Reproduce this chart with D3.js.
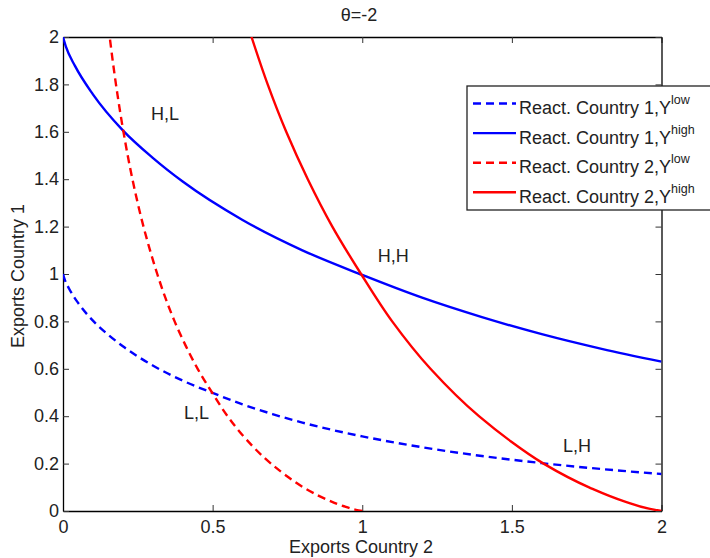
<!DOCTYPE html>
<html>
<head>
<meta charset="utf-8">
<script src="https://cdn.jsdelivr.net/npm/d3@7"></script>
<style>
  body { margin: 0; background: #fff; }
  svg text { font-family: "Liberation Sans", Arial, sans-serif; fill: #222; }
</style>
</head>
<body>
<div id="chart"></div>
<script>
// ticks
const xTicks = [0, 0.5, 1, 1.5, 2];
const yTicks = [0, 0.2, 0.4, 0.6, 0.8, 1, 1.2, 1.4, 1.6, 1.8, 2];

// reaction country 1 (exports 1 as function of exports 2)
const c1LowX = [0, 0.005, 0.02, 0.05, 0.1, 0.15, 0.2, 0.3, 0.4, 0.5, 0.6, 0.7, 0.8, 0.9, 1.0, 1.2, 1.4, 1.6, 1.8, 2.0];
const c1LowY = [1, 0.979, 0.939, 0.879, 0.803, 0.745, 0.695, 0.614, 0.55, 0.498, 0.45, 0.409, 0.373, 0.342, 0.315, 0.269, 0.232, 0.202, 0.177, 0.156];
const c1HighX = [0, 0.01, 0.04, 0.1, 0.2, 0.3, 0.4, 0.6, 0.8, 1.0, 1.2, 1.4, 1.6, 1.8, 2.0];
const c1HighY = [2, 1.958, 1.878, 1.758, 1.606, 1.49, 1.39, 1.228, 1.1, 0.996, 0.9, 0.818, 0.746, 0.684, 0.63];

// reaction country 2 (exports 2 as function of exports 1)
const c2LowX = [1, 0.979, 0.939, 0.879, 0.803, 0.745, 0.695, 0.614, 0.55, 0.498, 0.45, 0.409, 0.373, 0.342, 0.315, 0.269, 0.232, 0.202, 0.177, 0.156];
const c2LowY = [0, 0.005, 0.02, 0.05, 0.1, 0.15, 0.2, 0.3, 0.4, 0.5, 0.6, 0.7, 0.8, 0.9, 1.0, 1.2, 1.4, 1.6, 1.8, 2.0];
const c2HighX = [2, 1.958, 1.878, 1.758, 1.606, 1.49, 1.39, 1.228, 1.1, 0.996, 0.9, 0.818, 0.746, 0.684, 0.63];
const c2HighY = [0, 0.01, 0.04, 0.1, 0.2, 0.3, 0.4, 0.6, 0.8, 1.0, 1.2, 1.4, 1.6, 1.8, 2.0];

const legendLabels = ["React. Country 1,Y", "React. Country 1,Y", "React. Country 2,Y", "React. Country 2,Y"];
const legendSup = ["low", "high", "low", "high"];

const eqLabels = ["H,L", "H,H", "L,L", "L,H"];
const eqX = [0.294, 1.052, 0.404, 1.671];
const eqY = [1.65, 1.052, 0.388, 0.25];

const width = 710, height = 558;
const margin = { top: 37, right: 48, bottom: 47, left: 63 };

const svg = d3.select("#chart").append("svg")
    .attr("width", width)
    .attr("height", height);

const x = d3.scaleLinear().domain([0, 2]).range([margin.left, width - margin.right - 0.5]);
const y = d3.scaleLinear().domain([0, 2]).range([height - margin.bottom, margin.top]);

svg.append("clipPath").attr("id", "plot-clip")
    .append("rect")
    .attr("x", x(0)).attr("y", y(2))
    .attr("width", x(2) - x(0)).attr("height", y(0) - y(2));

const fmt = d => String(d);
const fontSize = 18;

// axes, MATLAB style ticks pointing inward
const xAxis = svg.append("g")
    .attr("transform", "translate(0," + y(0) + ")")
    .call(d3.axisBottom(x).tickValues(xTicks).tickFormat(fmt).tickSizeInner(-6).tickSizeOuter(0).tickPadding(9));
const xAxisTop = svg.append("g")
    .attr("transform", "translate(0," + y(2) + ")")
    .call(d3.axisTop(x).tickValues(xTicks).tickFormat("").tickSizeInner(-6).tickSizeOuter(0));
const yAxis = svg.append("g")
    .attr("transform", "translate(" + x(0) + ",0)")
    .call(d3.axisLeft(y).tickValues(yTicks).tickFormat(fmt).tickSizeInner(-6).tickSizeOuter(0).tickPadding(4));
const yAxisRight = svg.append("g")
    .attr("transform", "translate(" + x(2) + ",0)")
    .call(d3.axisRight(y).tickValues(yTicks).tickFormat("").tickSizeInner(-6).tickSizeOuter(0));

[xAxis, xAxisTop, yAxis, yAxisRight].forEach(g => {
    g.select(".domain").attr("stroke", "#000").attr("stroke-width", 1.3);
    g.selectAll(".tick line").attr("stroke", "#333");
    g.selectAll("text")
        .attr("font-size", fontSize)
        .attr("font-family", "Liberation Sans, Arial, sans-serif")
        .attr("fill", "#222");
});

// curves
const series = [
    { xs: c1LowX, ys: c1LowY, color: "#0000ff", dash: "8,5", curve: d3.curveMonotoneX },
    { xs: c1HighX, ys: c1HighY, color: "#0000ff", dash: null, curve: d3.curveMonotoneX },
    { xs: c2LowX, ys: c2LowY, color: "#ff0000", dash: "8,5", curve: d3.curveMonotoneY },
    { xs: c2HighX, ys: c2HighY, color: "#ff0000", dash: null, curve: d3.curveMonotoneY }
];

const plot = svg.append("g").attr("clip-path", "url(#plot-clip)");

series.forEach(s => {
    const pts = s.xs.map((v, i) => [v, s.ys[i]]);
    plot.append("path")
        .datum(pts)
        .attr("fill", "none")
        .attr("stroke", s.color)
        .attr("stroke-width", 2.4)
        .attr("stroke-dasharray", s.dash)
        .attr("d", d3.line().x(d => x(d[0])).y(d => y(d[1])).curve(s.curve));
});

// equilibrium labels
eqLabels.forEach((t, i) => {
    svg.append("text")
        .attr("x", x(eqX[i]))
        .attr("y", y(eqY[i]))
        .attr("font-size", fontSize)
        .text(t);
});

// title and axis labels
svg.append("text")
    .attr("x", 359)
    .attr("y", 21)
    .attr("text-anchor", "middle")
    .attr("font-size", fontSize)
    .text("θ=-2");

svg.append("text")
    .attr("x", 361)
    .attr("y", 553)
    .attr("text-anchor", "middle")
    .attr("font-size", fontSize)
    .text("Exports Country 2");

svg.append("text")
    .attr("transform", "translate(24," + (y(1) + 2) + ") rotate(-90)")
    .attr("text-anchor", "middle")
    .attr("font-size", fontSize)
    .text("Exports Country 1");

// legend
const legend = svg.append("g").attr("transform", "translate(467,86)");
legend.append("rect")
    .attr("x", 0).attr("y", 0)
    .attr("width", 260).attr("height", 124)
    .attr("fill", "#fff")
    .attr("stroke", "#222")
    .attr("stroke-width", 1.3);

series.forEach((s, i) => {
    const rowY = 17.5 + i * 29.6;
    legend.append("line")
        .attr("x1", 6).attr("x2", 49)
        .attr("y1", rowY).attr("y2", rowY)
        .attr("stroke", s.color)
        .attr("stroke-width", 2.4)
        .attr("stroke-dasharray", s.dash);
    const t = legend.append("text")
        .attr("x", 52)
        .attr("y", rowY + 10.5)
        .attr("font-size", fontSize);
    t.append("tspan").text(legendLabels[i]);
    t.append("tspan")
        .attr("font-size", 12.5)
        .attr("dy", -10)
        .text(legendSup[i]);
});
</script>
</body>
</html>
